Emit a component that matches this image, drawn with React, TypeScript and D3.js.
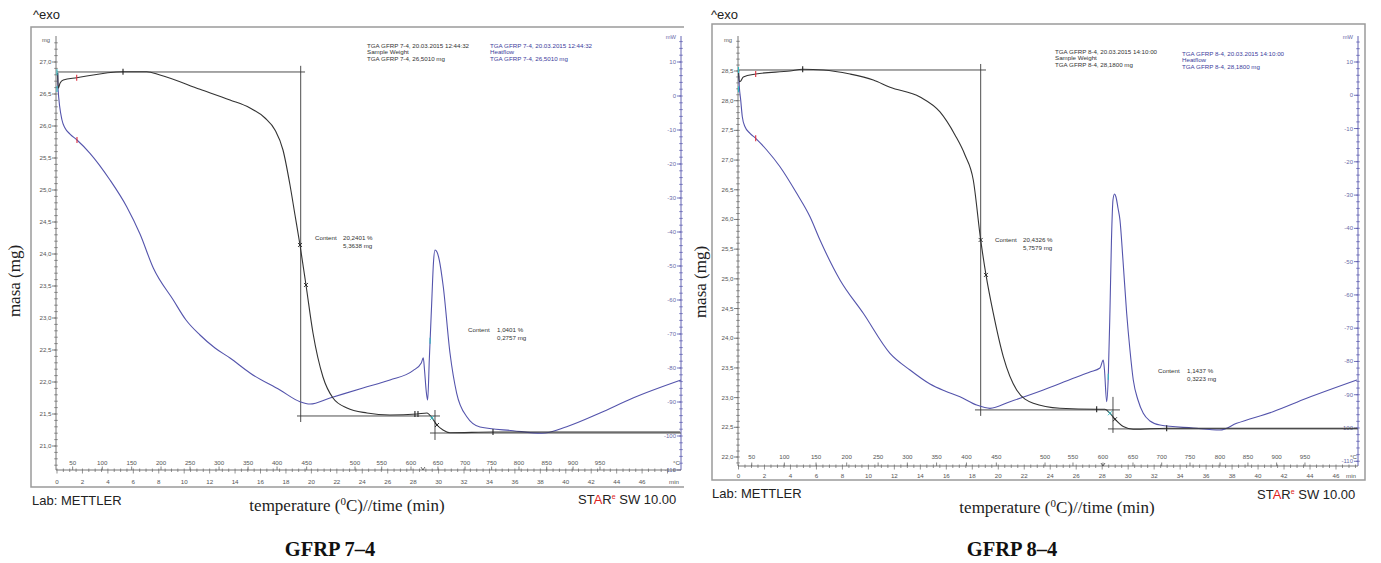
import React from "react";
import * as d3 from "d3";

// ---------------- data ----------------
// temperature tick labels and the time (min) at which each is reached
const tempTicks = [50, 100, 150, 200, 250, 300, 350, 400, 450, 500, 550, 600, 650, 700, 750, 800, 850, 900, 950];
const tempTickTimes74 = [1.23, 3.56, 5.87, 8.18, 10.46, 12.74, 15.02, 17.3, 19.63, 23.43, 25.53, 27.83, 29.95, 32.08, 34.17, 36.32, 38.5, 40.57, 42.69];
const tempTickTimes84 = [1.02, 3.53, 5.97, 8.33, 10.75, 13.0, 15.25, 17.55, 19.85, 23.6, 25.75, 28.06, 30.37, 32.58, 34.76, 37.07, 39.22, 41.43, 43.61];
const timeTicks = [0, 2, 4, 6, 8, 10, 12, 14, 16, 18, 20, 22, 24, 26, 28, 30, 32, 34, 36, 38, 40, 42, 44, 46];
const massTicks74 = [21.0, 21.5, 22.0, 22.5, 23.0, 23.5, 24.0, 24.5, 25.0, 25.5, 26.0, 26.5, 27.0];
const massTicks84 = [22.0, 22.5, 23.0, 23.5, 24.0, 24.5, 25.0, 25.5, 26.0, 26.5, 27.0, 27.5, 28.0, 28.5];
const heatTicks = [10, 0, -10, -20, -30, -40, -50, -60, -70, -80, -90, -100, -110];

// [time min, mass mg]
const mass74: [number, number][] = [
  [0.055, 26.828], [0.102, 26.589], [0.236, 26.667], [0.495, 26.719], [1.549, 26.755], [5.189, 26.848],
  [7.052, 26.848], [8.097, 26.797], [11.242, 26.573], [13.601, 26.406], [15.173, 26.281], [16.352, 26.125],
  [17.138, 25.938], [17.767, 25.625], [18.318, 25.078], [18.711, 24.609], [19.104, 24.141], [19.575, 23.516],
  [20.126, 22.766], [20.912, 22.078], [21.698, 21.75], [22.799, 21.594], [24.371, 21.516], [26.179, 21.484],
  [28.302, 21.5], [29.088, 21.516], [29.481, 21.438], [29.874, 21.328], [30.346, 21.25], [30.896, 21.208],
  [34.277, 21.219], [48.978, 21.219],
];
// [time min, heat flow mW]
const heat74: [number, number][] = [
  [0.055, 6.76], [0.079, 2.35], [0.393, -7.06], [0.629, -9.41], [1.022, -11.18], [1.572, -12.94],
  [2.594, -16.85], [4.167, -24.7], [5.48, -32.56], [6.525, -40.59], [7.571, -50.59], [9.143, -60.0],
  [10.142, -65.88], [11.242, -70.29], [12.421, -74.12], [13.601, -77.06], [15.173, -81.47], [17.531, -86.47],
  [19.104, -89.91], [19.89, -90.59],
  [21.462, -88.82], [24.057, -85.88], [26.179, -83.53], [27.987, -80.79], [28.64, -78.5], [28.797, -77.0],
  [28.892, -80.5], [29.033, -87], [29.143, -89.41], [29.269, -77.65], [29.458, -60.88], [29.6, -48.8],
  [29.717, -45.29], [29.874, -45.9], [30.055, -48.24], [30.369, -56.09], [30.896, -75.59], [31.423, -87.44],
  [32.233, -94.41], [33.255, -97.35], [35.849, -98.44], [38.106, -99.21], [40.071, -97.26], [42.689, -93.24],
  [45.283, -88.82], [49.057, -83.53],
];
const mass84: [number, number][] = [
  [0.0, 28.517], [0.062, 28.32], [0.169, 28.33], [0.37, 28.4], [1.324, 28.449], [3.965, 28.5],
  [4.942, 28.529], [6.528, 28.517], [8.584, 28.449], [10.377, 28.348], [11.663, 28.226], [13.972, 28.062],
  [15.512, 27.81], [16.667, 27.423], [17.436, 27.086], [18.075, 26.665], [18.645, 25.655], [19.053, 25.066],
  [19.615, 24.421], [20.385, 23.69], [21.416, 23.129], [22.694, 22.906], [24.75, 22.822], [27.575, 22.805],
  [28.214, 22.805], [28.599, 22.737], [28.984, 22.636], [29.623, 22.512], [30.393, 22.468], [32.964, 22.485],
  [47.613, 22.485],
];
const heat84: [number, number][] = [
  [0.0, 7.08], [0.062, 2.58], [0.169, -1.42], [0.293, -6.44], [0.5, -9.45], [0.885, -11.43], [1.324, -12.93],
  [2.171, -16.45], [3.195, -21.47], [4.48, -29.46], [5.504, -36.5], [6.274, -43.5], [7.814, -55.52],
  [9.607, -65.53], [11.663, -77.56], [13.203, -82.58], [14.742, -86.79], [15.897, -88.89], [17.052, -90.6],
  [18.337, -93.1], [19.361, -94.09], [20.901, -92.1], [23.464, -88.59], [25.774, -85.07], [27.059, -83.18],
  [27.829, -81.97], [28.083, -79.57], [28.176, -82.58], [28.345, -92.1], [28.468, -84.59], [28.599, -64.54],
  [28.714, -43.5], [28.83, -31.48], [28.945, -29.67], [29.061, -30.58], [29.215, -33.88], [29.368, -37.49],
  [29.599, -49.51], [29.884, -65.53], [30.139, -76.62], [30.393, -85.58], [30.755, -91.59], [31.162, -95.59],
  [31.678, -97.9], [32.448, -99.11], [34.989, -100], [37.067, -100.61], [38.352, -98.6], [41.147, -95.11],
  [43.741, -91.08], [47.613, -85.58],
];

// construction lines [t1, mass1, t2, mass2]
const steps74: [number, number, number, number][] = [
  [0, 26.844, 19.5, 26.844],
  [19.159, 26.94, 19.159, 21.375],
  [18.868, 21.469, 30.11, 21.469],
  [29.717, 21.5625, 29.717, 21.094],
  [29.324, 21.203, 49.06, 21.203],
];
const steps84: [number, number, number, number][] = [
  [0, 28.517, 19.053, 28.517],
  [18.645, 28.618, 18.645, 22.692],
  [18.206, 22.793, 29.368, 22.793],
  [28.83, 23.012, 28.83, 22.406],
  [28.445, 22.473, 47.69, 22.473],
];

// markers [series, t, value, color, kind]
type Mk = [string, number, number, string, string];
const markers74: Mk[] = [
  ["m", 0.0, 26.84, "teal", "tick"], ["m", 0.0, 26.58, "teal", "tick"],
  ["m", 1.549, 26.755, "red", "tick"], ["h", 1.572, -12.94, "red", "tick"],
  ["m", 5.189, 26.848, "black", "tick"],
  ["m", 19.104, 24.141, "black", "x"], ["m", 19.575, 23.516, "black", "x"],
  ["m", 28.14, 21.5, "black", "tick"], ["m", 28.38, 21.5, "black", "tick"],
  ["h", 29.33, -72, "teal", "tick"],
  ["m", 29.481, 21.438, "teal", "x"], ["m", 29.874, 21.328, "black", "x"],
  ["m", 34.277, 21.219, "black", "tick"],
];
const markers84: Mk[] = [
  ["m", 0.0, 28.517, "teal", "tick"], ["m", 0.0, 28.192, "teal", "tick"],
  ["m", 1.324, 28.449, "red", "tick"], ["h", 1.324, -12.93, "red", "tick"],
  ["m", 4.942, 28.529, "black", "tick"],
  ["m", 18.645, 25.655, "black", "x"], ["m", 19.053, 25.066, "black", "x"],
  ["m", 27.575, 22.805, "black", "tick"],
  ["h", 28.468, -84.59, "teal", "tick"],
  ["m", 28.599, 22.737, "teal", "x"], ["m", 28.984, 22.636, "black", "x"],
  ["m", 32.964, 22.485, "black", "tick"],
];
const vMarkTime74 = 28.77;
const vMarkTime84 = 28.06;

const header74 = ["TGA GFRP 7-4, 20.03.2015 12:44:32", "Sample Weight", "TGA GFRP 7-4, 26,5010 mg"];
const heatHeader74 = ["TGA GFRP 7-4, 20.03.2015 12:44:32", "Heatflow", "TGA GFRP 7-4, 26,5010 mg"];
const header84 = ["TGA GFRP 8-4, 20.03.2015 14:10:00", "Sample Weight", "TGA GFRP 8-4, 28,1800 mg"];
const heatHeader84 = ["TGA GFRP 8-4, 20.03.2015 14:10:00", "Heatflow", "TGA GFRP 8-4, 28,1800 mg"];
const content74 = [["20,2401 %", "5,3638 mg"], ["1,0401 %", "0,2757 mg"]];
const content84 = [["20,4326 %", "5,7579 mg"], ["1,1437 %", "0,3223 mg"]];
const captions = ["GFRP 7\u20134", "GFRP 8\u20134"];

// ---------------- layout ----------------
const geo74 = {
  clip: [0, 0, 684, 563],
  frame: [31, 27, 690, 487],
  axL: 56, axR: 681, axY: 470, axTop: 36,
  xt: [57, 642.1],
  mDom: [21, 27], mRng: [446, 62],
  hRng: [436, 62],
  tempLblY: 465, timeLblY: 484,
  hdr: [367, 48], hhdr: [490, 48],
  contents: [[315, 343, 240], [468, 497, 332]],
  exo: [33, 19], lab: [32, 505], star: [578, 504],
  title: [347, 511], ylab: [20, 281], cap: [330, 556],
};
const geo84 = {
  clip: [690, 0, 1381, 563],
  frame: [712, 24, 1365, 480],
  axL: 738, axR: 1358, axY: 466, axTop: 36,
  xt: [738.5, 1336],
  mDom: [22, 28.5], mRng: [457, 71],
  hRng: [428, 62],
  tempLblY: 459, timeLblY: 478,
  hdr: [1055, 54], hhdr: [1182, 56],
  contents: [[995, 1023, 242], [1158, 1187, 373]],
  exo: [711, 19], lab: [712, 498], star: [1257, 499],
  title: [1057, 513], ylab: [706, 282], cap: [1012, 556],
};

const SANS = "'Liberation Sans', Arial, sans-serif";
const SERIF = "'Liberation Serif', 'Times New Roman', serif";
const BLACK = "#333333";
const BLUE = "#5454ac";
const GRAY = "#555555";

function Panel({ id, g, mass, heat, massTicks, tempTimes, steps, markers, vMark, header, heatHeader, content, caption }: any) {
  const xt = d3.scaleLinear().domain([0, 46]).range(g.xt);
  const yM = d3.scaleLinear().domain(g.mDom).range(g.mRng);
  const yH = d3.scaleLinear().domain([-100, 10]).range(g.hRng);
  const lineM = d3.line<[number, number]>().x((d) => xt(d[0])).y((d) => yM(d[1])).curve(d3.curveMonotoneX);
  const lineH = d3.line<[number, number]>().x((d) => xt(d[0])).y((d) => yH(d[1])).curve(d3.curveMonotoneX);

  const mLo = yM.invert(g.axY), mHi = yM.invert(g.axTop + 3);
  const mMinor = d3.range(Math.ceil(mLo * 10) / 10, mHi, 0.1);
  const hLo = yH.invert(g.axY), hHi = yH.invert(g.axTop + 3);
  const hMinor = d3.range(Math.ceil(hLo / 2) * 2, hHi, 2);
  const tMinor = d3.range(0, 60, 0.5).filter((t) => xt(t) <= g.axR - 1);
  const [fx0, fy0, fx1, fy1] = g.frame;
  const colorOf = (c: string) => (c === "teal" ? "#2fb8c0" : c === "red" ? "#e03040" : "#222");
  const vx = xt(vMark);

  return (
    <g clipPath={`url(#clip-${id})`}>
      <defs>
        <clipPath id={`clip-${id}`}>
          <rect x={g.clip[0]} y={g.clip[1]} width={g.clip[2] - g.clip[0]} height={g.clip[3] - g.clip[1]} />
        </clipPath>
      </defs>
      <text x={g.exo[0]} y={g.exo[1]} fontFamily={SANS} fontSize={13} fill="#222">^exo</text>
      <rect x={fx0} y={fy0} width={fx1 - fx0} height={fy1 - fy0} fill="none" stroke="#9a9a9a" strokeWidth={1.5} />

      {/* mass axis */}
      <line x1={g.axL} x2={g.axL} y1={g.axTop} y2={g.axY} stroke="#666" strokeWidth={0.9} />
      {mMinor.map((m, i) => (
        <line key={i} x1={g.axL - 1.8} x2={g.axL + 1.8} y1={yM(m)} y2={yM(m)} stroke="#666" strokeWidth={0.7} />
      ))}
      {massTicks.map((m: number) => (
        <g key={m}>
          <line x1={g.axL - 4} x2={g.axL} y1={yM(m)} y2={yM(m)} stroke="#666" strokeWidth={0.8} />
          <text x={g.axL - 4.5} y={yM(m) + 2} textAnchor="end" fontFamily={SANS} fontSize={6.2} fill={GRAY}>
            {m.toFixed(1).replace(".", ",")}
          </text>
        </g>
      ))}
      <text x={g.axL - 6} y={g.axTop + 6} textAnchor="end" fontFamily={SANS} fontSize={5.8} fill={GRAY}>mg</text>

      {/* heat axis */}
      <line x1={g.axR} x2={g.axR} y1={g.axTop} y2={g.axY} stroke={BLUE} strokeWidth={0.9} />
      {hMinor.map((h, i) => (
        <line key={i} x1={g.axR - 1.8} x2={g.axR + 1.8} y1={yH(h)} y2={yH(h)} stroke={BLUE} strokeWidth={0.7} />
      ))}
      {heatTicks.map((h) => (
        <g key={h}>
          <line x1={g.axR - 4} x2={g.axR} y1={yH(h)} y2={yH(h)} stroke={BLUE} strokeWidth={0.8} />
          <text x={g.axR - 5} y={yH(h) + 2} textAnchor="end" fontFamily={SANS} fontSize={6} fill="#6a6aa8">
            {h}
          </text>
        </g>
      ))}
      <text x={g.axR - 5} y={g.axTop + 3} textAnchor="end" fontFamily={SANS} fontSize={5.8} fill="#6a6aa8">mW</text>

      {/* x axis */}
      <line x1={g.axL} x2={g.axR} y1={g.axY} y2={g.axY} stroke="#666" strokeWidth={0.9} />
      {tMinor.map((t, i) => (
        <line key={i} x1={xt(t)} x2={xt(t)} y1={g.axY - 1.5} y2={g.axY + (t % 2 === 0 ? 3.5 : 2)} stroke="#666" strokeWidth={0.7} />
      ))}
      {tempTimes.map((t: number, i: number) => (
        <line key={i} x1={xt(t)} x2={xt(t)} y1={g.axY - 3.5} y2={g.axY} stroke="#666" strokeWidth={0.8} />
      ))}
      {tempTicks.map((T, i) => (
        <text key={T} x={xt(tempTimes[i])} y={g.tempLblY} textAnchor="middle" fontFamily={SANS} fontSize={6.2} fill={GRAY}>{T}</text>
      ))}
      {timeTicks.map((t) => (
        <text key={t} x={xt(t)} y={g.timeLblY} textAnchor="middle" fontFamily={SANS} fontSize={6.2} fill={GRAY}>{t}</text>
      ))}
      <text x={g.axR - 1} y={g.tempLblY} textAnchor="end" fontFamily={SANS} fontSize={6.2} fill={GRAY}>°C</text>
      <text x={g.axR - 2} y={g.timeLblY} textAnchor="end" fontFamily={SANS} fontSize={6.2} fill={GRAY}>min</text>
      <path d={`M${vx - 2},${g.axY - 3}L${vx},${g.axY}L${vx + 2},${g.axY - 3}`} fill="none" stroke="#444" strokeWidth={0.8} />

      {/* headers */}
      {header.map((s: string, i: number) => (
        <text key={i} x={g.hdr[0]} y={g.hdr[1] + i * 6.3} fontFamily={SANS} fontSize={6.2} fill="#333">{s}</text>
      ))}
      {heatHeader.map((s: string, i: number) => (
        <text key={i} x={g.hhdr[0]} y={g.hhdr[1] + i * 6.3} fontFamily={SANS} fontSize={6.2} fill="#3c3c9c">{s}</text>
      ))}

      {/* construction lines */}
      {steps.map((s: number[], i: number) => (
        <line key={i} x1={xt(s[0])} y1={yM(s[1])} x2={xt(s[2])} y2={yM(s[3])} stroke="#3a3a3a" strokeWidth={0.9} />
      ))}

      {/* curves */}
      <path d={lineH(heat) || ""} fill="none" stroke={BLUE} strokeWidth={1.1} />
      <path d={lineM(mass) || ""} fill="none" stroke={BLACK} strokeWidth={1.1} />

      {/* markers */}
      {markers.map((m: Mk, i: number) => {
        const x = xt(m[1]);
        const y = m[0] === "m" ? yM(m[2]) : yH(m[2]);
        const c = colorOf(m[3]);
        return m[4] === "x" ? (
          <path key={i} d={`M${x - 2},${y - 2}L${x + 2},${y + 2}M${x - 2},${y + 2}L${x + 2},${y - 2}`} stroke={c} strokeWidth={0.9} />
        ) : (
          <line key={i} x1={x} x2={x} y1={y - 3} y2={y + 3} stroke={c} strokeWidth={1.1} />
        );
      })}

      {/* content labels */}
      {content.map((c: string[], i: number) => {
        const [xa, xb, y] = g.contents[i];
        return (
          <g key={i} fontFamily={SANS} fontSize={6.2} fill="#333">
            <text x={xa} y={y}>Content</text>
            <text x={xb} y={y}>{c[0]}</text>
            <text x={xb} y={y + 8}>{c[1]}</text>
          </g>
        );
      })}

      {/* footer */}
      <text x={g.lab[0]} y={g.lab[1]} fontFamily={SANS} fontSize={13} fill="#222">Lab: METTLER</text>
      <text x={g.star[0]} y={g.star[1]} fontFamily={SANS} fontSize={13} fill="#222">
        <tspan>ST</tspan>
        <tspan fill="#e02020">A</tspan>
        <tspan>R</tspan>
        <tspan fill="#e02020" fontSize={7} dy={-5}>e</tspan>
        <tspan dy={5}> SW 10.00</tspan>
      </text>
      <text x={g.title[0]} y={g.title[1]} textAnchor="middle" fontFamily={SERIF} fontSize={17} fill="#222">
        temperature (<tspan fontSize={11} dy={-6}>0</tspan><tspan dy={6}>C)//time (min)</tspan>
      </text>
      <text transform={`translate(${g.ylab[0]},${g.ylab[1]}) rotate(-90)`} textAnchor="middle" fontFamily={SERIF} fontSize={17} fill="#222">
        masa (mg)
      </text>
      <text x={g.cap[0]} y={g.cap[1]} textAnchor="middle" fontFamily={SERIF} fontSize={20.5} fontWeight="bold" fill="#111">
        {caption}
      </text>
    </g>
  );
}

export default function App() {
  return (
    <svg width={1381} height={563} style={{ position: "fixed", left: 0, top: 0, background: "#fff", display: "block" }}>
      <rect width={1381} height={563} fill="#fff" />
      <Panel id="a" g={geo74} mass={mass74} heat={heat74} massTicks={massTicks74} tempTimes={tempTickTimes74}
        steps={steps74} markers={markers74} vMark={vMarkTime74}
        header={header74} heatHeader={heatHeader74} content={content74} caption={captions[0]} />
      <Panel id="b" g={geo84} mass={mass84} heat={heat84} massTicks={massTicks84} tempTimes={tempTickTimes84}
        steps={steps84} markers={markers84} vMark={vMarkTime84}
        header={header84} heatHeader={heatHeader84} content={content84} caption={captions[1]} />
    </svg>
  );
}
